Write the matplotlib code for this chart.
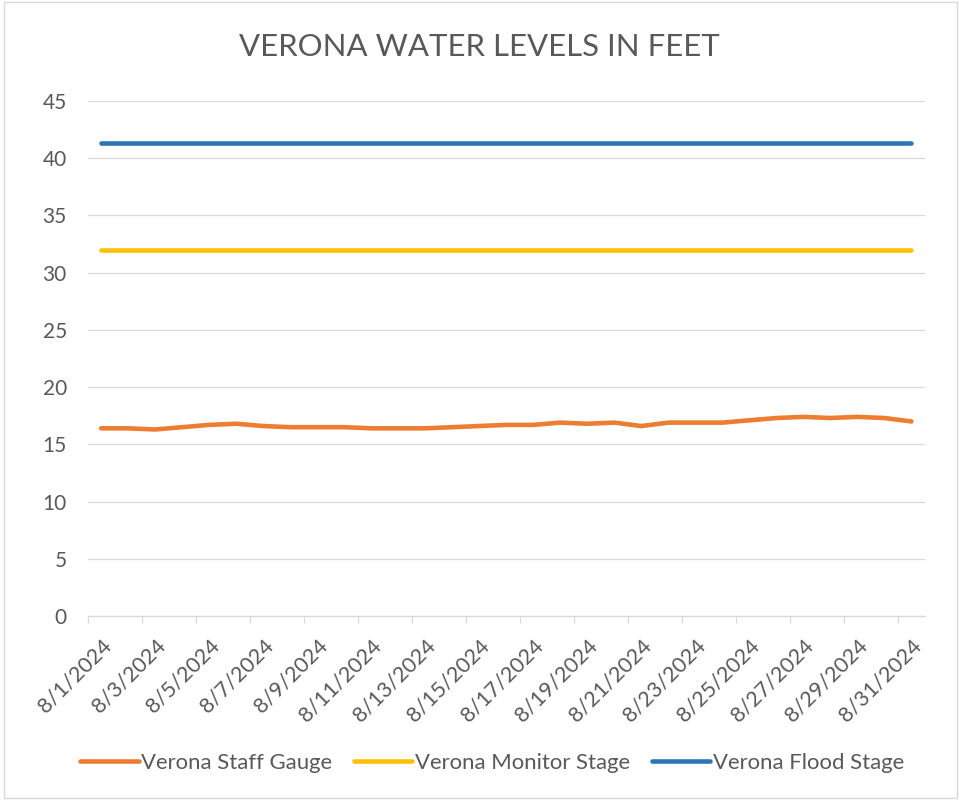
import matplotlib
matplotlib.use("Agg")
import matplotlib.pyplot as plt
from matplotlib.patches import Rectangle
from matplotlib.transforms import ScaledTranslation

dates = [f"8/{d}/2024" for d in range(1, 32)]
staff_gauge = [16.4, 16.4, 16.3, 16.5, 16.7, 16.8, 16.6, 16.5, 16.5, 16.5,
               16.4, 16.4, 16.4, 16.5, 16.6, 16.7, 16.7, 16.9, 16.8, 16.9,
               16.6, 16.9, 16.9, 16.9, 17.1, 17.3, 17.4, 17.3, 17.4, 17.3, 17.0]
monitor_stage = [32.0] * 31
flood_stage = [41.3] * 31
tick_labels = dates[::2]

plt.rcParams['font.family'] = ['Lato', 'DejaVu Sans']
GRAY = '#595959'

fig = plt.figure(figsize=(9.59, 8.0), dpi=100)
ax = fig.add_axes([0.0914, 0.23, 0.8731, 0.6437])

x = list(range(len(dates)))
l1, = ax.plot(x, staff_gauge, color='#ED7D31', lw=3.3, solid_capstyle='round', solid_joinstyle='round', label='Verona Staff Gauge', zorder=3)
l2, = ax.plot(x, monitor_stage, color='#FFC000', lw=3.3, solid_capstyle='round', label='Verona Monitor Stage', zorder=3)
l3, = ax.plot(x, flood_stage, color='#2E75B6', lw=3.3, solid_capstyle='round', label='Verona Flood Stage', zorder=3)

ax.set_xlim(-0.5, len(dates) - 0.5)
ax.set_ylim(0, 45)
ax.set_yticks(range(0, 46, 5))
ax.grid(axis='y', color='#D9D9D9', lw=0.9)
ax.set_axisbelow(True)
for s in ['left', 'right', 'top']:
    ax.spines[s].set_visible(False)
ax.spines['bottom'].set_color('#D9D9D9')
ax.spines['bottom'].set_linewidth(0.9)

ax.set_xticks(x[::2])
ax.set_xticklabels(tick_labels, rotation=45, ha='right', rotation_mode='anchor',
                   fontsize=15.6, color=GRAY)
offset = ScaledTranslation(16 / 100, 0, fig.dpi_scale_trans)
for lab in ax.get_xticklabels():
    lab.set_transform(lab.get_transform() + offset)
ax.set_xticks([i - 0.5 for i in x[::2]], minor=True)
ax.tick_params(axis='x', which='major', length=0, pad=14)
ax.tick_params(axis='x', which='minor', length=5, color='#D9D9D9', width=0.9)
ax.tick_params(axis='y', length=0, pad=15, labelsize=15, labelcolor=GRAY)

fig.text(0.5, 0.941, 'VERONA WATER LEVELS IN FEET', ha='center', va='center',
         fontsize=22.4, color=GRAY)

fig.legend(handles=[l1, l2, l3], loc='center', bbox_to_anchor=(0.513, 0.046), ncol=3,
           frameon=False, fontsize=15.9, handlelength=2.65, handletextpad=0.1,
           columnspacing=1.0, labelcolor=GRAY)

fig.add_artist(Rectangle((0.004, 0.002), 0.994, 0.996, transform=fig.transFigure,
                         fill=False, edgecolor='#D9D9D9', lw=1))

fig.savefig('out.png', dpi=100)
